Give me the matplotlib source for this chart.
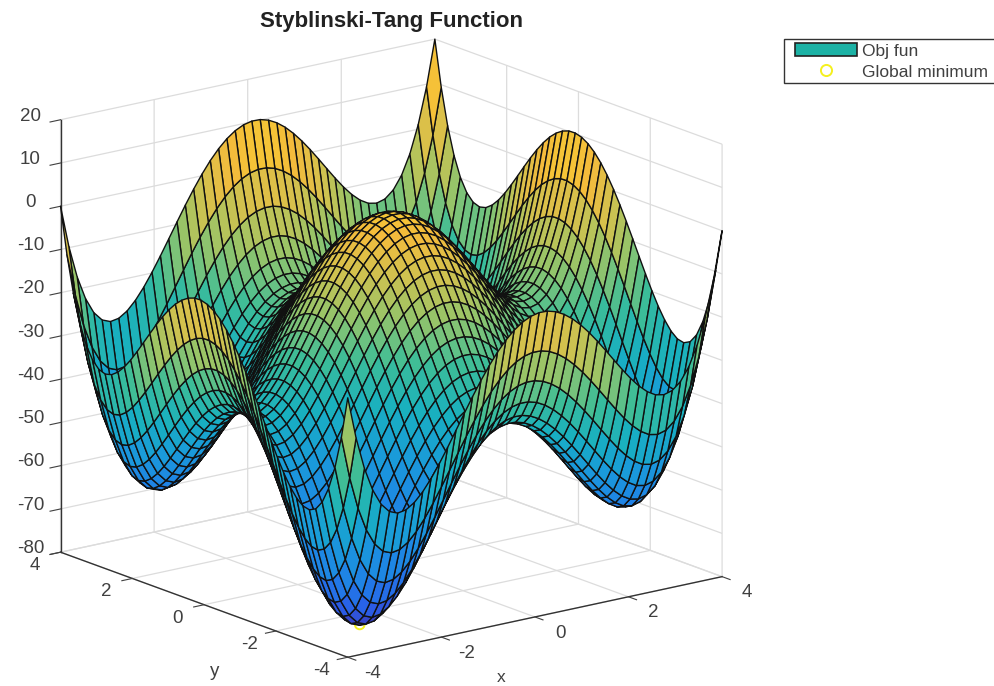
import matplotlib
matplotlib.use("Agg")
import matplotlib.pyplot as plt
import numpy as np
from matplotlib.colors import LinearSegmentedColormap, Normalize
from matplotlib.lines import Line2D
from matplotlib.patches import Patch, Rectangle
from matplotlib.transforms import Affine2D

plt.rcParams['font.family'] = ['Liberation Sans', 'DejaVu Sans']
plt.rcParams['axes.unicode_minus'] = False

# edge profile of the surface, one value per mesh line from -4 to 4
edge_profile = [-10.0, -19.72, -27.16, -32.59, -36.26, -38.37, -39.15, -38.81, -37.53, -35.49,
                -32.87, -29.82, -26.47, -22.97, -19.44, -15.97, -12.68, -9.64, -6.91, -4.58,
                -2.67, -1.23, -0.29, 0.16, 0.10, -0.45, -1.47, -2.91, -4.75, -6.90,
                -9.31, -11.88, -14.53, -17.14, -19.60, -21.76, -23.49, -24.64, -25.03, -24.48,
                -22.81, -19.81, -15.26, -8.94, -0.60, 10.0]
xy_ticks = [-4, -2, 0, 2, 4]
z_ticks = [-80, -70, -60, -50, -40, -30, -20, -10, 0, 10, 20]
min_point = [-2.9, -2.9, -78.3]

# colours picked off the surface, low to high
cmap_stops = [0.0, 0.08, 0.18, 0.29, 0.39, 0.49, 0.54, 0.59, 0.67, 0.76, 1.0]
cmap_rgb = ['#3f34b0', '#2a5ee8', '#1f82e6', '#1a9ada', '#18b0c0', '#3cbd98', '#6ec280',
            '#98c468', '#cec250', '#f4bb3c', '#f9fb15']
surf_map = LinearSegmentedColormap.from_list("surf", list(zip(cmap_stops, cmap_rgb)))

W, H = 995, 686
TEXT = '#404040'


def nudgeLabels(ax, axis, dx, dy):
    """Shifts the tick labels of a 3d axis by some pixels.

    Axis3D resets the label transform on every get_major_ticks, so wrap it.
    """
    orig = axis.get_major_ticks

    def shifted(numticks=None):
        ticks = orig(numticks)
        for t in ticks:
            t.label1.set_transform(ax.transData + Affine2D().translate(dx, dy))
        return ticks
    axis.get_major_ticks = shifted
#End of nudgeLabels()


fig = plt.figure(figsize=(W / 100, H / 100), dpi=100)

# square axes centred on the box centre
side = 800
cx, cy = 380.5, 359
ax = fig.add_axes([(cx - side / 2) / W, 1 - (cy + side / 2) / H, side / W, side / H],
                  projection='3d', computed_zorder=False)
ax.set_proj_type('ortho')
ax.view_init(elev=16.3, azim=-127.5)
ax.set_box_aspect((466, 466, 445), zoom=0.977)
ax.patch.set_alpha(0)

grid = np.linspace(-4, 4, len(edge_profile))
X, Y = np.meshgrid(grid, grid)
prof = np.array(edge_profile)
Z = prof[:, None] + prof[None, :]
colors = surf_map(Normalize(Z.min(), Z.max())(Z))

ax.scatter([min_point[0]], [min_point[1]], [min_point[2]], s=50, facecolors='none',
           edgecolors='#f5f01e', linewidths=1.4, depthshade=False, zorder=1)
ax.plot_surface(X, Y, Z, facecolors=colors, rstride=1, cstride=1, shade=False,
                edgecolor='#111111', linewidth=1.0, zorder=2)

ax.set_xlim(-4, 4, view_margin=0)
ax.set_ylim(-4, 4, view_margin=0)
ax.set_zlim(-80, 20, view_margin=0)
ax.set_xticks(xy_ticks)
ax.set_yticks(xy_ticks)
ax.set_zticks(z_ticks)

for axis in (ax.xaxis, ax.yaxis, ax.zaxis):
    axis.set_pane_color((1, 1, 1, 0))
    axis.pane.set_edgecolor('#dcdcdc')
    axis.line.set_color('#333333')
    axis.line.set_linewidth(1.0)
    axis._axinfo['grid'].update(color='#dcdcdc', linewidth=0.9)
    axis._axinfo['tick'].update(inward_factor=0.35, outward_factor=0.0)
    axis._axinfo['tick']['color'] = '#333333'
ax.tick_params(labelsize=13.5, colors=TEXT)
ax.tick_params(axis='x', pad=13)
ax.tick_params(axis='y', pad=13)
ax.tick_params(axis='z', pad=7)

for lab in ax.get_xticklabels() + ax.get_yticklabels() + ax.get_zticklabels():
    lab.set_va('bottom')
nudgeLabels(ax, ax.xaxis, 5, 13)
nudgeLabels(ax, ax.yaxis, 0, 14)
nudgeLabels(ax, ax.zaxis, 3, -6)

fig.text(392 / W, 1 - 21 / H, "Styblinski-Tang Function", ha='center', va='center',
         fontsize=16, fontweight='bold', color='#222222')
fig.text(501 / W, 1 - 678 / H, "x", ha='center', va='center', fontsize=12.5, color=TEXT)
fig.text(215 / W, 1 - 672 / H, "y", ha='center', va='center', fontsize=13.5, color=TEXT)

# legend frame runs off the right edge like the reference
fig.add_artist(Rectangle((784 / W, 1 - 82.5 / H), 220 / W, 43 / H, transform=fig.transFigure,
                         facecolor='white', edgecolor='#333333', linewidth=1.0, zorder=5))
handles = [Patch(facecolor='#1cb2a5', edgecolor='#222222', linewidth=1.2),
           Line2D([], [], marker='o', ls='none', mfc='none', mec='#f5f01e', mew=1.4, ms=8)]
leg = fig.legend(handles, ["Obj fun", "Global minimum"], loc='upper left',
                 bbox_to_anchor=(795 / W, 1 - 43 / H), bbox_transform=fig.transFigure,
                 fontsize=12.5, labelcolor=TEXT, frameon=False,
                 handlelength=3.55, handleheight=0.8, handletextpad=0.3, labelspacing=0.3,
                 borderpad=0, borderaxespad=0)
leg.set_zorder(6)

fig.savefig('out.png', dpi=100)
